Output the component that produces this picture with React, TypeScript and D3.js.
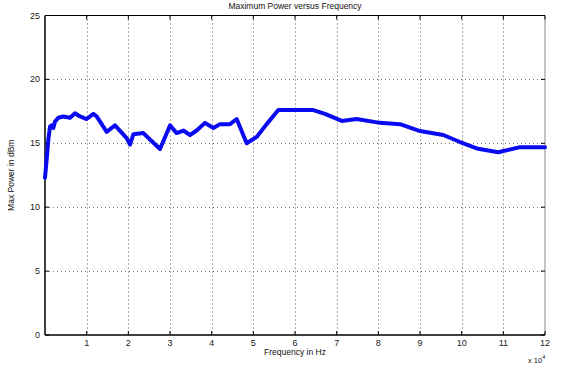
import React from "react";
import * as d3 from "d3";

// frequency (x 10^4 Hz) and max power (dBm)
const freq = [
  0, 0.05, 0.08, 0.12, 0.16, 0.2, 0.24, 0.32, 0.44, 0.6, 0.72, 0.84, 1.0, 1.16, 1.24,
  1.48, 1.68, 1.96, 2.04, 2.12, 2.36, 2.52, 2.76, 3.0, 3.16, 3.32, 3.48, 3.64, 3.84,
  4.04, 4.2, 4.44, 4.6, 4.84, 5.08, 5.32, 5.6, 6.12, 6.44, 6.72, 7.12, 7.48, 8.04,
  8.52, 9.0, 9.56, 9.96, 10.36, 10.88, 11.4, 12,
];
const power = [
  12.3, 14.1, 15.3, 16.3, 16.4, 16.2, 16.7, 17.0, 17.1, 17.0, 17.35, 17.1, 16.9, 17.3,
  17.1, 15.9, 16.4, 15.4, 14.9, 15.7, 15.8, 15.3, 14.55, 16.4, 15.8, 16.0, 15.65, 16.0,
  16.6, 16.2, 16.5, 16.5, 16.9, 15.0, 15.5, 16.5, 17.6, 17.6, 17.6, 17.3, 16.75, 16.9,
  16.6, 16.5, 15.96, 15.65, 15.1, 14.6, 14.3, 14.7, 14.7,
];
const xTicks = [1, 2, 3, 4, 5, 6, 7, 8, 9, 10, 11, 12];
const yTicks = [0, 5, 10, 15, 20, 25];

const W = 568;
const H = 368;
const m = { left: 45, right: 23, top: 15.5, bottom: 33 };

export default function App() {
  const x = d3.scaleLinear().domain([0, 12]).range([m.left, W - m.right]);
  const y = d3.scaleLinear().domain([0, 25]).range([H - m.bottom, m.top]);
  const pts = freq.map((f, i) => [f, power[i]] as [number, number]);
  const line = d3
    .line<[number, number]>()
    .x((d) => x(d[0]))
    .y((d) => y(d[1]));
  const font = "'Liberation Sans', Arial, sans-serif";
  const x0 = m.left;
  const x1 = W - m.right;
  const y0 = H - m.bottom;
  const y1 = m.top;

  return (
    <svg
      width={W}
      height={H}
      style={{ position: "absolute", left: 0, top: 0, background: "#fff" }}
      fontFamily={font}
    >
      {/* grid */}
      {xTicks.slice(0, -1).map((t) => (
        <line
          key={"gx" + t}
          x1={Math.round(x(t)) + 0.5}
          x2={Math.round(x(t)) + 0.5}
          y1={y1}
          y2={y0}
          stroke="#555"
          strokeDasharray="1,3"
        />
      ))}
      {yTicks.slice(1, -1).map((t) => (
        <line
          key={"gy" + t}
          x1={x0}
          x2={x1}
          y1={Math.round(y(t)) + 0.5}
          y2={Math.round(y(t)) + 0.5}
          stroke="#777"
          strokeDasharray="1,3"
        />
      ))}

      {/* box */}
      <line x1={x0} x2={x1} y1={y1} y2={y1} stroke="#000" />
      <line x1={x0} x2={x0} y1={y1} y2={y0} stroke="#000" strokeWidth={1.5} />
      <line x1={x0} x2={x1} y1={y0} y2={y0} stroke="#000" strokeWidth={1.5} />
      <line x1={x1} x2={x1} y1={y1} y2={y0} stroke="#888" />

      {/* ticks */}
      {xTicks.map((t) => (
        <g key={"tx" + t}>
          <line x1={x(t)} x2={x(t)} y1={y0} y2={y0 - 4} stroke="#000" />
          <line x1={x(t)} x2={x(t)} y1={y1} y2={y1 + 4} stroke="#000" />
          <text x={x(t)} y={y0 + 11} fontSize={9} textAnchor="middle" fill="#222">
            {t}
          </text>
        </g>
      ))}
      {yTicks.map((t) => (
        <g key={"ty" + t}>
          <line x1={x0} x2={x0 + 4} y1={y(t)} y2={y(t)} stroke="#000" />
          <line x1={x1} x2={x1 - 4} y1={y(t)} y2={y(t)} stroke="#000" />
          <text x={x0 - 5} y={y(t) + 3} fontSize={9} textAnchor="end" fill="#222">
            {t}
          </text>
        </g>
      ))}

      {/* series */}
      <path
        d={line(pts) ?? ""}
        fill="none"
        stroke="#0a0af2"
        strokeWidth={4}
        strokeLinejoin="round"
        strokeLinecap="round"
      />

      {/* labels */}
      <text x={(x0 + x1) / 2} y={9} fontSize={8.5} textAnchor="middle" fill="#111">
        Maximum Power versus Frequency
      </text>
      <text x={(x0 + x1) / 2} y={355} fontSize={8.5} textAnchor="middle" fill="#111">
        Frequency in Hz
      </text>
      <text
        transform={`translate(14,${(y0 + y1) / 2}) rotate(-90)`}
        fontSize={8.5}
        textAnchor="middle"
        fill="#111"
      >
        Max Power in dBm
      </text>
      <text x={528} y={363} fontSize={7.5} fill="#111">
        x 10
        <tspan dy={-4} fontSize={5.5}>
          4
        </tspan>
      </text>
    </svg>
  );
}
